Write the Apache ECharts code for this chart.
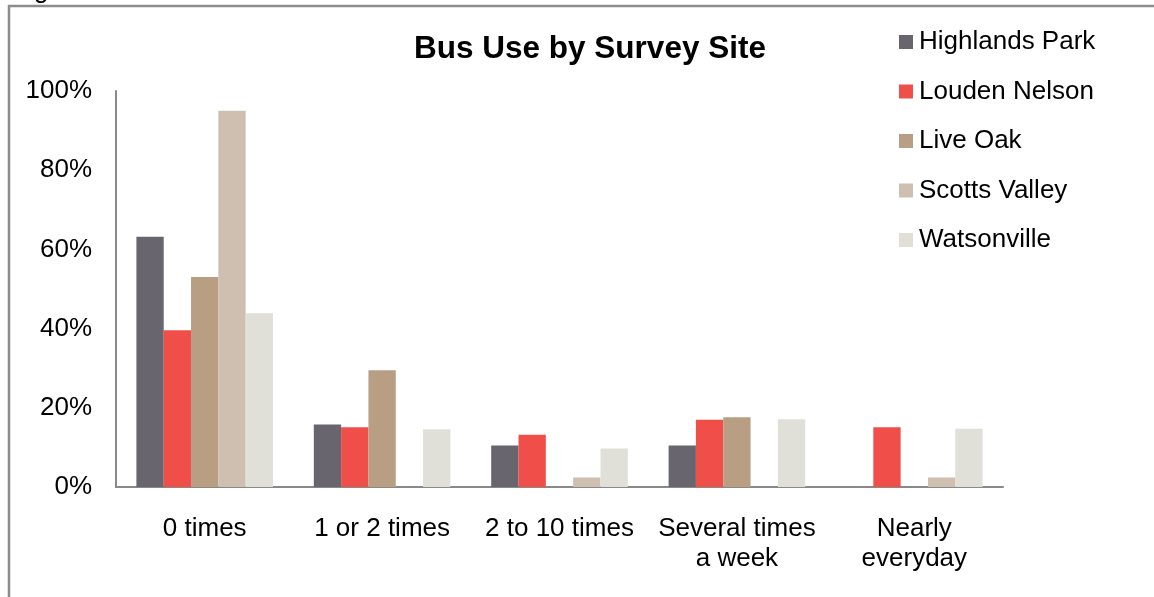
<!DOCTYPE html>
<html>
<head>
<meta charset="utf-8">
<style>
html,body{margin:0;padding:0;background:#fff;}
#chart{width:1154px;height:597px;}
</style>
<script src="https://cdn.jsdelivr.net/npm/echarts@6/dist/echarts.min.js"></script>
</head>
<body>
<div id="chart"></div>
<script>
const categories = ['0 times', '1 or 2 times', '2 to 10 times', 'Several times\na week', 'Nearly\neveryday'];
const seriesNames = ['Highlands Park', 'Louden Nelson', 'Live Oak', 'Scotts Valley', 'Watsonville'];
const highlandsPark = [63.2, 15.8, 10.5, 10.5, 0];
const loudenNelson = [39.6, 15.1, 13.2, 17.0, 15.1];
const liveOak = [53.0, 29.5, 0, 17.6, 0];
const scottsValley = [95.0, 0, 2.4, 0, 2.4];
const watsonville = [43.9, 14.6, 9.7, 17.1, 14.7];
const yTicks = [0, 20, 40, 60, 80, 100];
const colors = ['#68656f', '#f04e48', '#b89e83', '#cebfb1', '#e0e0d8'];
const seriesData = [highlandsPark, loudenNelson, liveOak, scottsValley, watsonville];

const FONT = 'Arial, "Liberation Sans", sans-serif';
const chart = echarts.init(document.getElementById('chart'), null, {renderer: 'canvas'});
chart.setOption({
  animation: false,
  backgroundColor: '#ffffff',
  color: colors,
  textStyle: {fontFamily: FONT},
  title: {
    text: 'Bus Use by Survey Site',
    left: 585, top: 28,
    textAlign: 'center',
    textStyle: {fontFamily: FONT, fontSize: 31.5, fontWeight: 'bold', color: '#000'}
  },
  legend: {
    orient: 'vertical',
    left: 899, top: 29,
    padding: 0,
    itemWidth: 14, itemHeight: 14,
    itemGap: 23.5,
    icon: 'rect',
    data: seriesNames,
    textStyle: {fontFamily: FONT, fontSize: 26, color: '#000', lineHeight: 26, padding: [0,0,0,1]}
  },
  grid: {left: 116, right: 151, top: 91, bottom: 110, containLabel: false},
  xAxis: {
    type: 'category',
    data: categories,
    axisLine: {show: true, lineStyle: {color: '#898989', width: 2}},
    axisTick: {show: false},
    axisLabel: {fontFamily: FONT, fontSize: 26, color: '#000', margin: 27, lineHeight: 30, interval: 0}
  },
  yAxis: {
    type: 'value',
    min: yTicks[0], max: yTicks[yTicks.length - 1], interval: 20,
    axisLine: {show: true, lineStyle: {color: '#898989', width: 2}},
    axisTick: {show: false},
    splitLine: {show: false},
    axisLabel: {fontFamily: FONT, fontSize: 26, color: '#000', margin: 24, formatter: '{value}%', lineHeight: 26, verticalAlign: 'middle', padding: [5,0,0,0]}
  },
  series: seriesNames.map((name, i) => ({
    name: name,
    type: 'bar',
    data: seriesData[i],
    barGap: '0%',
    barCategoryGap: '23%',
    itemStyle: {color: colors[i]}
  })),
  graphic: [
    {
      type: 'rect',
      shape: {x: 9, y: 6, width: 1300, height: 700},
      style: {fill: 'none', stroke: '#8c8c8c', lineWidth: 2.5},
      silent: true
    },
    {
      type: 'text',
      x: 34, y: 4,
      style: {text: 'g', fontFamily: FONT, fontSize: 26, fill: '#000', verticalAlign: 'bottom'},
      silent: true
    }
  ]
});
</script>
</body>
</html>
